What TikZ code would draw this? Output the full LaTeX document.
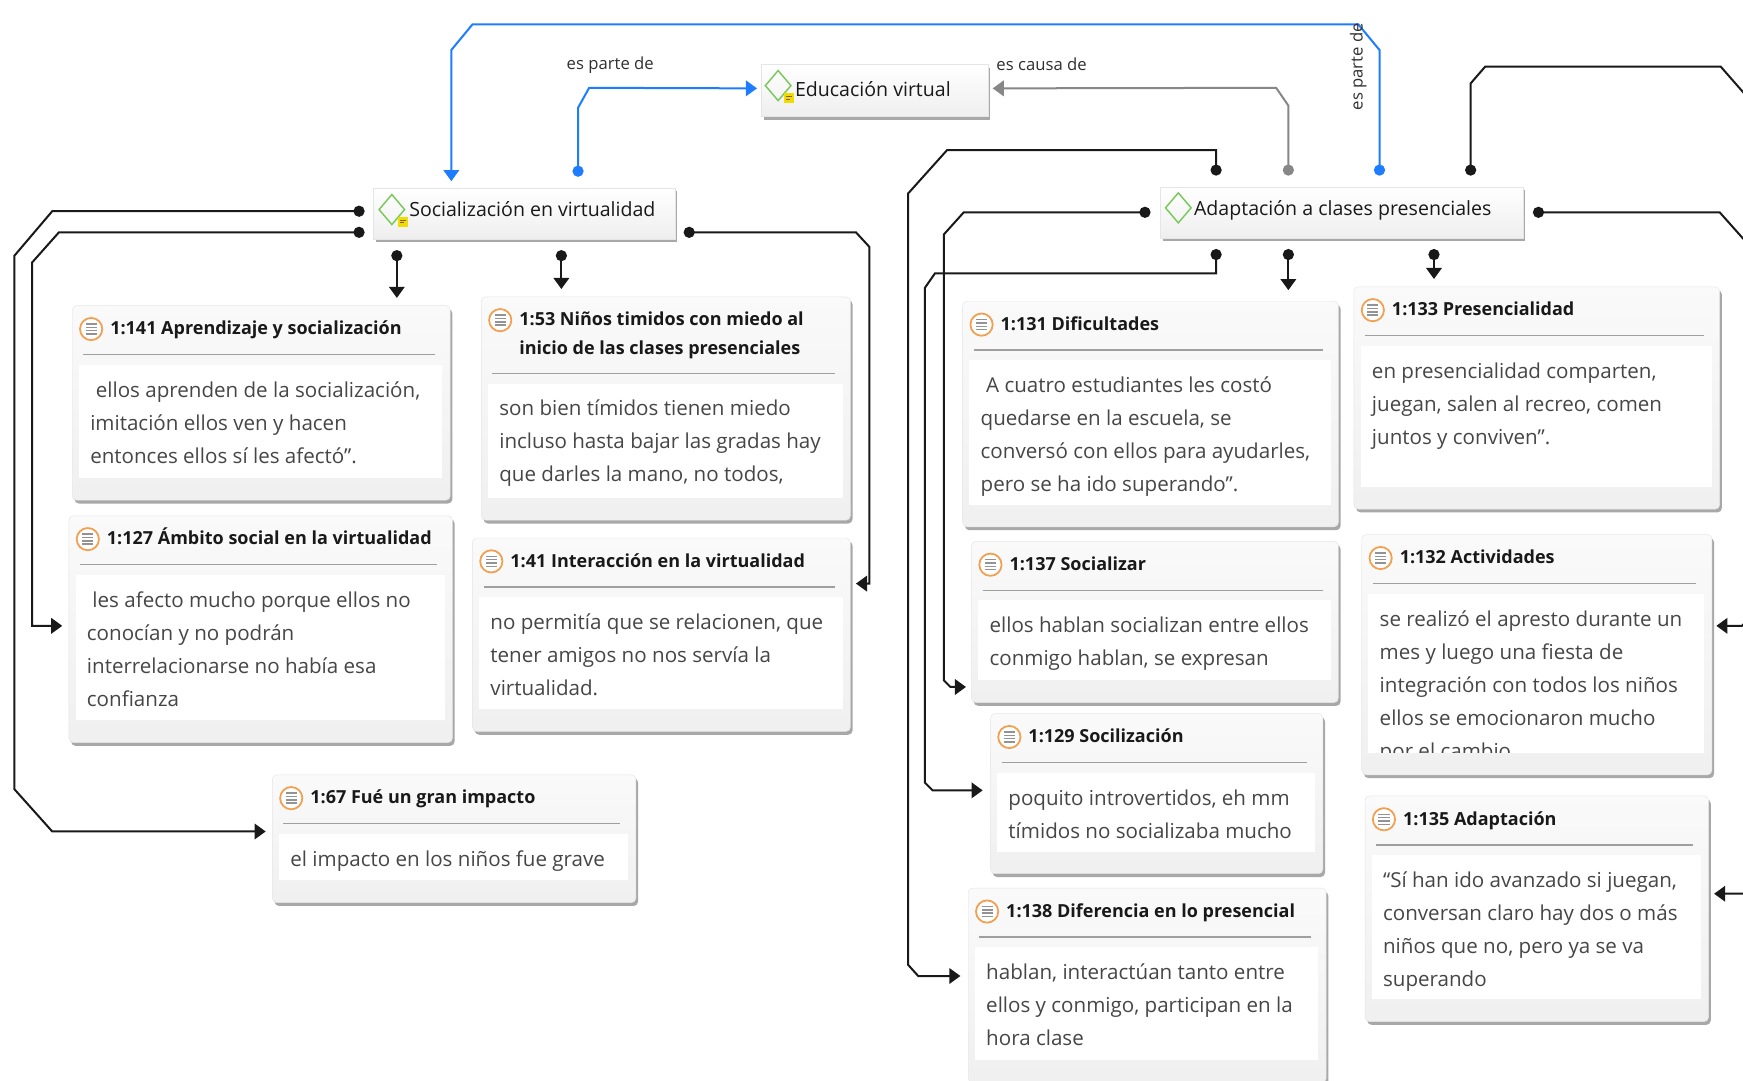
\documentclass[tikz,border=0pt]{standalone}
\usepackage{fontspec}
\setmainfont{Open Sans}
\usetikzlibrary{arrows.meta,calc,shadows}
\definecolor{cblue}{RGB}{30,125,255}
\definecolor{cgray}{RGB}{135,135,135}
\definecolor{cline}{RGB}{25,25,25}
\definecolor{iconor}{RGB}{240,160,80}
\definecolor{dgreen}{RGB}{120,200,90}
\definecolor{ybox}{RGB}{240,220,0}
\definecolor{bodyc}{RGB}{70,70,70}
\definecolor{titc}{RGB}{25,25,25}
\tikzset{
  conn/.style={draw=cline, line width=1.8pt, arrows={Circle[length=10pt,width=10pt]-Triangle[length=10pt,width=14pt]}},
  blueconn/.style={conn, draw=cblue, arrows={Circle[length=10pt,width=10pt,fill=cblue]-Triangle[length=10pt,width=14pt,fill=cblue]}},
  grayconn/.style={conn, draw=cgray, arrows={Circle[length=10pt,width=10pt,fill=cgray]-Triangle[length=10pt,width=14pt,fill=cgray]}},
  qouter/.style={draw=gray!20, rounded corners=4pt, top color=gray!4, bottom color=gray!12, inner sep=0pt, outer sep=0pt,
    drop shadow={shadow xshift=2pt, shadow yshift=-3pt, fill=gray!80, opacity=0.85}},
  mainbox/.style={draw=gray!20, top color=white, bottom color=gray!13, inner sep=0pt, outer sep=0pt,
    drop shadow={shadow xshift=2pt, shadow yshift=-3pt, fill=gray!80, opacity=0.85}},
  sepline/.style={draw=gray!75, line width=1.3pt},
  qtitle/.style={inner sep=0pt, align=left, text=titc, font=\fontsize{16.2}{26}\selectfont\bfseries},
  qbody/.style={inner sep=0pt, align=left, text=bodyc, font=\fontsize{18.5}{29.7}\selectfont},
  mtext/.style={inner sep=0pt, text=titc, font=\fontsize{17.6}{20}\selectfont},
  lbl/.style={inner sep=0pt, text=titc!90, font=\fontsize{15}{17}\selectfont},
  qicon/.pic={\draw[iconor, fill=white, line width=1.6pt] (0,0) circle (10pt);
    \foreach \yy in {-4.5,-1.5,1.5,4.5}{\draw[gray!85, line width=1.3pt] (-5pt,\yy pt) -- (5pt,\yy pt);}},
  dmd/.pic={\draw[dgreen, line width=1.3pt] (0,13.5pt) -- (11.5pt,0) -- (0,-13.5pt) -- (-11.5pt,0) -- cycle;},
  ydmd/.pic={\draw[dgreen, line width=1.3pt] (0,13.5pt) -- (11.5pt,0) -- (0,-13.5pt) -- (-11.5pt,0) -- cycle;
    \fill[ybox] (5.5pt,-15.5pt) rectangle (14.5pt,-6.5pt);
    \draw[brown!70!black, line width=0.7pt] (7.5pt,-9.5pt) -- (12.5pt,-9.5pt) (7.5pt,-12pt) -- (11pt,-12pt);}
}
\newcommand\qbox[8]{%
  \node[qouter, minimum width={#4-#2}, minimum height={#5-#3}, anchor=north west] (#1) at (#2,#3) {};
  \fill[white] ({#2+6},{#3+53+#8}) rectangle ({#4-7},{#5-20});
  \draw[sepline] ({#2+10},{#3+44+#8}) -- ({#4-14},{#3+44+#8});
  \pic at ({#2+17},{#3+21}) {qicon};
  \node[qtitle, anchor=north west] (#1t) at ({#2+34},{#3+7.8}) {\strut #6};
  \begin{scope}
    \clip ({#2+6},{#3+53+#8}) rectangle ({#4-7},{#5-20});
    \node[qbody, anchor=north west] (#1b) at ({#2+16},{#3+61.2+#8}) {\strut #7};
  \end{scope}
}
\begin{document}
\begin{tikzpicture}[x=1pt,y=-1pt]
\clip (0,0) rectangle (1568,972);
\fill[white] (0,0) rectangle (1568,972);

% main nodes
\node[mainbox, minimum width=204, minimum height=47, anchor=north west] (edu) at (685,58) {};
\pic at (700,77) {ydmd};
\node[mtext, anchor=base west] (edut) at (715,87) {Educación virtual};

\node[mainbox, minimum width=271, minimum height=46, anchor=north west] (soc) at (336,169) {};
\pic at (352.5,188.5) {ydmd};
\node[mtext, anchor=base west] (soct) at (368,195) {Socialización en virtualidad};

\node[mainbox, minimum width=326, minimum height=46, anchor=north west] (adap) at (1044,168) {};
\pic at (1060,187) {dmd};
\node[mtext, anchor=base west] (adapt) at (1074,194) {Adaptación a clases presenciales};

% quotation boxes
\qbox{q141}{65}{275}{405}{450}{1:141 Aprendizaje y socialización}{\hspace{5pt}ellos aprenden de la socialización,\\imitación ellos ven y hacen\\entonces ellos sí les afectó”.}{0}
\qbox{q53}{433}{267}{765}{468}{1:53 Niños timidos con miedo al\\inicio de las clases presenciales}{son bien tímidos tienen miedo\\incluso hasta bajar las gradas hay\\que darles la mano, no todos,}{25}
\qbox{q127}{62}{464}{407}{668}{1:127 Ámbito social en la virtualidad}{\hspace{5pt}les afecto mucho porque ellos no\\conocían y no podrán\\interrelacionarse no había esa\\confianza}{0}
\qbox{q41}{425}{484}{765}{658}{1:41 Interacción en la virtualidad}{no permitía que se relacionen, que\\tener amigos no nos servía la\\virtualidad.}{0}
\qbox{q67}{245}{697}{572}{812}{1:67 Fué un gran impacto}{el impacto en los niños fue grave}{0}
\qbox{q131}{866}{271}{1204}{474}{1:131 Dificultades}{\hspace{5pt}A cuatro estudiantes les costó\\quedarse en la escuela, se\\conversó con ellos para ayudarles,\\pero se ha ido superando”.}{0}
\qbox{q133}{1218}{258}{1547}{458}{1:133 Presencialidad}{en presencialidad comparten,\\juegan, salen al recreo, comen\\juntos y conviven”.}{0}
\qbox{q137}{874}{487}{1204}{632}{1:137 Socializar}{ellos hablan socializan entre ellos\\conmigo hablan, se expresan}{0}
\qbox{q132}{1225}{481}{1540}{697}{1:132 Actividades}{se realizó el apresto durante un\\mes y luego una fiesta de\\integración con todos los niños\\ellos se emocionaron mucho\\por el cambio}{0}
\qbox{q129}{891}{642}{1190}{786}{1:129 Socilización}{poquito introvertidos, eh mm\\tímidos no socializaba mucho}{0}
\qbox{q138}{871}{799}{1193}{974}{1:138 Diferencia en lo presencial}{hablan, interactúan tanto entre\\ellos y conmigo, participan en la\\hora clase}{0}
\qbox{q135}{1228}{716}{1537}{919}{1:135 Adaptación}{“Sí han ido avanzado si juegan,\\conversan claro hay dos o más\\niños que no, pero ya se va\\superando}{0}

% labelled relations
\draw[blueconn] ($(adap.north west)+(197,-10)$) -- (1241,45) -- (1222,22) -- (425,22) -- (406,45) -- ($(soc.north west)+(70,-6)$);
\node[lbl, rotate=90] (l3) at (1222,60) {es parte de};
\draw[blueconn] ($(soc.north west)+(184,-10)$) -- (520,97) -- (530,79) -- ($(edu.west)+(-4,-2)$);
\node[lbl] (l1) at (549,59) {es parte de};
\draw[grayconn] ($(adap.north west)+(115,-10)$) -- (1159,95) -- (1148,79) -- ($(edu.east)+(4,-2)$);
\node[lbl] (l2) at (937,58) {es causa de};

% Socialización links
\draw[conn] ($(soc.west)+(-8,-2)$) -- (47,190) -- (13,230) -- (13,710) -- (47,748) -- ($(q67.west)+(-6,-6.5)$);
\draw[conn] ($(soc.south west)+(-8,-6)$) -- (53,209) -- (29,236) -- (29,563) -- ($(q127.west)+(-6,-3)$);
\draw[conn] ($(soc.south east)+(8,-6)$) -- (770,209) -- (782,222) -- (782,525) -- ($(q41.east)+(5,-46)$);
\draw[conn] ($(soc.south west)+(21,10)$) -- ($(q141.north west)+(292,-7)$);
\draw[conn] ($(soc.south west)+(169,10)$) -- ($(q53.north west)+(72,-7)$);

% Adaptación links
\draw[conn] ($(adap.north west)+(50,-10)$) -- (1094,135) -- (852,135) -- (817,174) -- (817,868) -- (826,878) -- ($(q138.west)+(-7,-8.5)$);
\draw[conn] ($(adap.west)+(-9,0)$) -- (867,191) -- (849,211) -- (849,612) -- (855,618) -- ($(q137.west)+(-5,58.5)$);
\draw[conn] ($(adap.south west)+(50,10)$) -- (1094,246) -- (841,246) -- (832,259) -- (832,704) -- (839,711) -- ($(q129.west)+(-7,-3)$);
\draw[conn] ($(adap.south west)+(115,10)$) -- ($(q131.north west)+(293,-10)$);
\draw[conn] ($(adap.south west)+(246,10)$) -- ($(q133.north west)+(72,-7)$);
\draw[conn] ($(adap.north west)+(279,-10)$) -- (1323,75) -- (1336,60) -- (1548,60) -- (1590,108) -- (1590,790) -- (1576,804) -- ($(q135.east)+(5,-13.5)$);
\draw[conn] ($(adap.east)+(9,0)$) -- (1547,191) -- (1580,228) -- (1580,550) -- (1567,563) -- ($(q132.east)+(4,-26)$);
\end{tikzpicture}
\end{document}
